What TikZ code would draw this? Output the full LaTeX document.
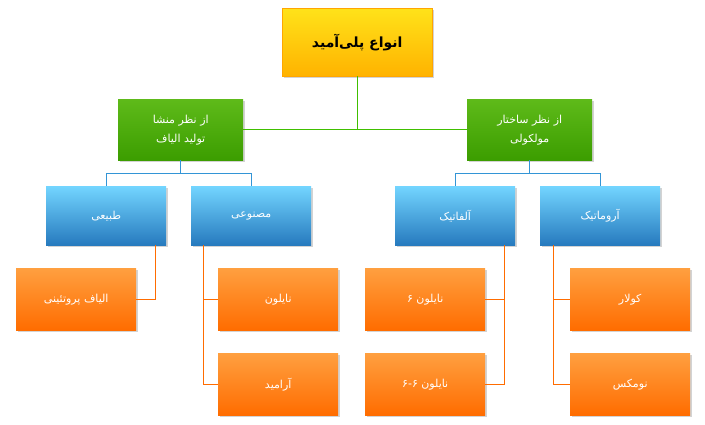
\documentclass[tikz,border=0pt]{standalone}
\usepackage{fontspec}
\usetikzlibrary{shadows}
\TeXXeTstate=1
\newfontfamily\fa[Script=Arabic]{DejaVu Sans}
\begin{document}
\begin{tikzpicture}[x=1pt,y=-1pt,
 bx/.style={anchor=north west,minimum width=#1,inner sep=0pt,align=center,text=white,font=\fa\fontsize{11}{19}\selectfont,drop shadow={shadow xshift=1.5pt,shadow yshift=-1.5pt,opacity=0.35}},
 yel/.style={bx=150pt,minimum height=68pt,top color=yellow!75!orange!90!white,bottom color=orange!60!yellow,text=black,font=\fa\bfseries\fontsize{14}{16}\selectfont,draw=orange!70!yellow,line width=0.4pt},
 grn/.style={bx=125pt,minimum height=61pt,top color=green!40!olive!90!white,bottom color=green!45!olive!85!black},
 blu/.style={bx=120pt,minimum height=59pt,top color=blue!30!cyan!55!white,bottom color=blue!45!cyan!70!black!85},
 org/.style={bx=120pt,minimum height=62pt,top color=orange!75!white,bottom color=orange!85!red},
 gl/.style={draw=green!50!olive,line width=0.8pt},
 bl/.style={draw=blue!40!cyan!80!black!80,line width=0.8pt},
 ol/.style={draw=orange!85!red,line width=0.8pt}]
\useasboundingbox (0,0) rectangle (705,425);
\node[yel] (top) at (282,8) {\beginR انواع پلی‌آمید\endR};
\node[grn] (g1) at (118,99) {\beginR از نظر منشا\endR\\\beginR تولید  الیاف\endR};
\node[grn] (g2) at (467,99) {\beginR از نظر ساختار\endR\\\beginR مولکولی\endR};
\node[blu] (b1) at (46,186) {\beginR طبیعی\endR};
\node[blu] (b2) at (191,186) {\beginR مصنوعی\endR};
\node[blu] (b3) at (395,186) {\beginR آلفاتیک\endR};
\node[blu] (b4) at (540,186) {\beginR آروماتیک\endR};
\node[org] (o1) at (16,268) {\beginR الیاف پروتئینی\endR};
\node[org] (o2) at (218,268) {\beginR نایلون\endR};
\node[org] (o3) at (218,353) {\beginR آرامید\endR};
\node[org] (o4) at (365,268) {\beginR نایلون ۶\endR};
\node[org] (o5) at (365,353) {\beginR نایلون ۶-۶\endR};
\node[org] (o6) at (570,268) {\beginR کولار\endR};
\node[org] (o7) at (570,353) {\beginR نومکس\endR};
\begin{scope}[on background layer/.style={}]
\draw[gl] (top.south) |- (g1.east);
\draw[gl] (top.south) |- (g2.west);
\draw[bl] (g1.south) -- ++(0,13) -| (b1.north);
\draw[bl] (g1.south) -- ++(0,13) -| (b2.north);
\draw[bl] (g2.south) -- ++(0,13) -| (b3.north);
\draw[bl] (g2.south) -- ++(0,13) -| (b4.north);
\draw[ol] ([xshift=-11pt]b1.south east) |- (o1.east);
\draw[ol] ([xshift=12pt]b2.south west) |- (o2.west);
\draw[ol] ([xshift=12pt]b2.south west) |- (o3.west);
\draw[ol] ([xshift=-11pt]b3.south east) |- (o4.east);
\draw[ol] ([xshift=-11pt]b3.south east) |- (o5.east);
\draw[ol] ([xshift=13pt]b4.south west) |- (o6.west);
\draw[ol] ([xshift=13pt]b4.south west) |- (o7.west);
\end{scope}
\end{tikzpicture}
\end{document}
